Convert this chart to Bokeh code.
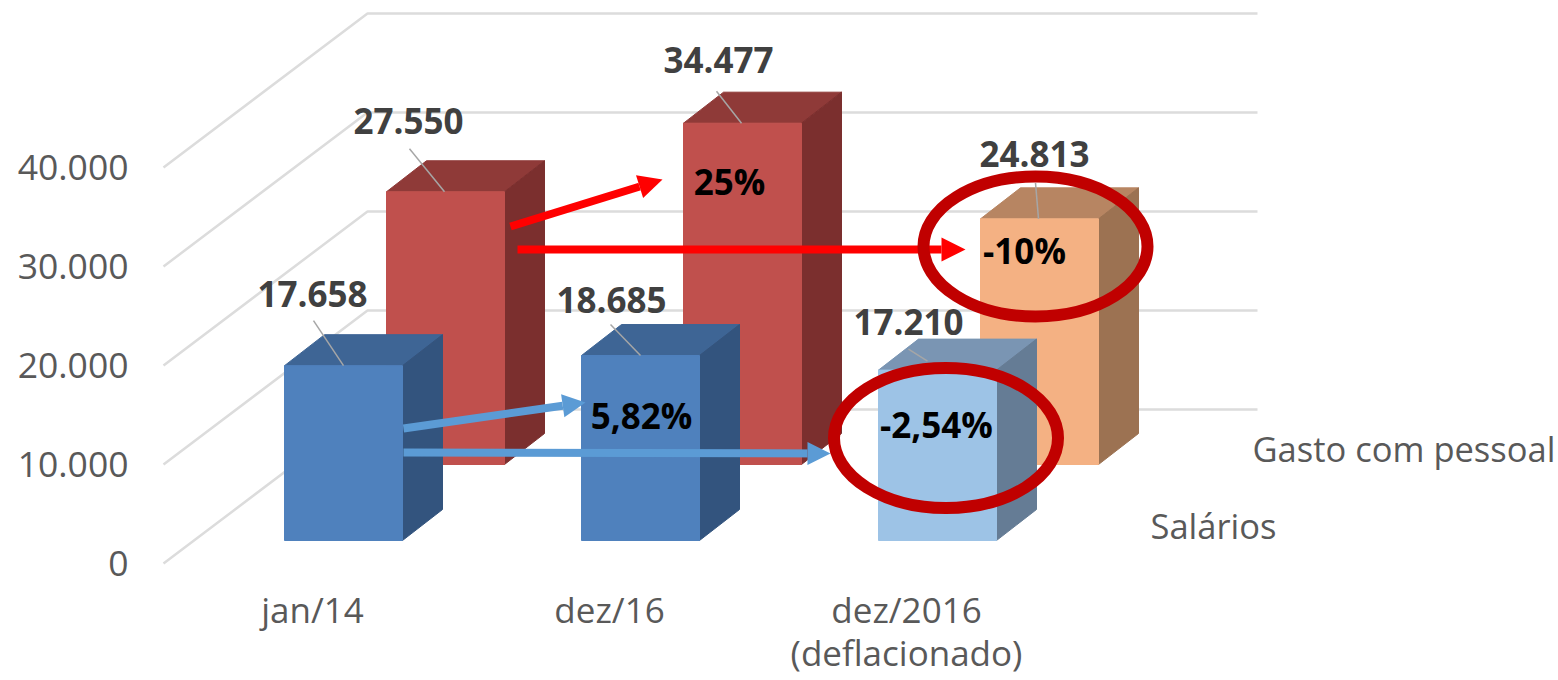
from bokeh.plotting import figure
from bokeh.models import FixedTicker, Arrow, NormalHead
from bokeh.core.properties import value
from bokeh.embed import file_html
from bokeh.resources import INLINE

# ---- data ----
categories = ["jan/14", "dez/16", "dez/2016\n(deflacionado)"]
salarios = [17658, 18685, 17210]
gasto = [27550, 34477, 24813]
salarios_labels = ["17.658", "18.685", "17.210"]
gasto_labels = ["27.550", "34.477", "24.813"]
y_ticks = [0, 10000, 20000, 30000, 40000]
y_tick_labels = ["0", "10.000", "20.000", "30.000", "40.000"]
series_names = ["Gasto com pessoal", "Salários"]
pct_texts = ["25%", "-10%", "5,82%", "-2,54%"]

# ---- styles per bar: (front, top, side) ----
blue = ("#4F81BD", "#3E6595", "#33547E")
red = ("#C0504D", "#8F3A38", "#7B2F2E")
light_blue = ("#9DC3E6", "#7A95B3", "#657C95")
orange = ("#F4B183", "#B78562", "#9C7252")
front_styles = [blue, blue, light_blue]
back_styles = [red, red, orange]

FONT = "Open Sans"
TEXT_GREY = "#595959"
LABEL_GREY = "#404040"

# ---- page geometry (window pixels) ----
W, H = 1558, 680
FRAME_L, FRAME_B = 140, 577
S = 0.0099           # pixels per unit of value
Y0_PX = 563          # pixel row of value 0 at the front of the floor
X0_PX, GROUP_PX = 312, 297  # pixel column of first category, group pitch
BAR_W, DEPTH_X, DEPTH_Y = 118, 40, 31


def X(px):
    return (px - X0_PX) / GROUP_PX


def V(py):
    return (Y0_PX - py) / S


p = figure(
    width=W, height=H, output_backend="svg", toolbar_location=None,
    x_range=(X(FRAME_L), X(W)), y_range=(V(FRAME_B), V(0)),
    min_border_left=FRAME_L, min_border_right=0, min_border_top=0,
    min_border_bottom=H - FRAME_B,
    outline_line_color=None, background_fill_color="white",
)
p.grid.visible = False

# axes
ya = p.yaxis[0]
ya.ticker = FixedTicker(ticks=y_ticks)
ya.major_label_overrides = dict(zip(y_ticks, y_tick_labels))
ya.axis_line_color = None
ya.major_tick_line_color = None
ya.minor_tick_line_color = None
ya.major_label_text_font = FONT
ya.major_label_text_font_size = "35.5px"
ya.major_label_text_color = TEXT_GREY
ya.major_label_standoff = 6

xa = p.xaxis[0]
xa.ticker = FixedTicker(ticks=list(range(len(categories))))
xa.major_label_overrides = dict(enumerate(categories))
xa.axis_line_color = None
xa.major_tick_line_color = None
xa.minor_tick_line_color = None
xa.major_label_text_font = FONT
xa.major_label_text_font_size = "35px"
xa.major_label_text_color = TEXT_GREY
xa.major_label_text_line_height = 0.92
xa.major_label_standoff = 2

# 3-D style walls: each gridline runs back along the side wall then across
WALL_L, WALL_DX, WALL_DY, WALL_R = 163, 204, 154, 1257
p.multi_line(
    xs=[[X(WALL_L), X(WALL_L + WALL_DX), X(WALL_R)] for _ in y_ticks],
    ys=[[v, v + WALL_DY / S, v + WALL_DY / S] for v in y_ticks],
    line_color="#DCDCDC", line_width=2.5,
)


def draw_bars(vals, row_left, base_px, styles):
    base = V(base_px)
    for i, (v, st) in enumerate(zip(vals, styles)):
        l = X(row_left + i * GROUP_PX)
        r = X(row_left + i * GROUP_PX + BAR_W)
        dx, dy = DEPTH_X / GROUP_PX, DEPTH_Y / S
        p.patch([l, l + dx, r + dx, r], [base + v, base + v + dy, base + v + dy, base + v],
                fill_color=st[1], line_color=st[1], line_width=1)
        p.patch([r, r + dx, r + dx, r], [base, base + dy, base + v + dy, base + v],
                fill_color=st[2], line_color=st[2], line_width=1)
        p.quad(left=l, right=r, bottom=base, top=base + v,
               fill_color=st[0], line_color=st[0], line_width=1)


BACK_LEFT, BACK_BASE = 386, 464
FRONT_LEFT, FRONT_BASE = 284, 540
draw_bars(gasto, BACK_LEFT, BACK_BASE, back_styles)
draw_bars(salarios, FRONT_LEFT, FRONT_BASE, front_styles)

# leader lines and value labels (pixel offsets from each bar's front top-left corner)
leader_back = [(23, 58, -43), (33, 58, -32), (55, 58, -36)]
leader_front = [(29, 59, -45), (29, 59, -31), (30, 49, -21)]
label_back_dx = [22, 35, 54]
label_back_dy = [-71, -63, -65]
label_front_dx = [28, 30, 30]
label_front_dy = [-72, -56, -48]


def labels(vals, texts, row_left, base_px, leaders, ldx, ldy):
    base = V(base_px)
    for i, v in enumerate(vals):
        l_px = row_left + i * GROUP_PX
        a, b, up = leaders[i]
        top = base + v
        p.line([X(l_px + a), X(l_px + b)], [top - up / S, top + (0 if b == 58 or b == 59 else 9 / S)],
               line_color="#A6A6A6", line_width=1.5)
        p.text(x=[X(l_px + ldx[i])], y=[top - ldy[i] / S], text=[texts[i]],
               text_font=value(FONT), text_font_size="35px", text_font_style="bold",
               text_color=LABEL_GREY, text_align="center", text_baseline="middle")


labels(gasto, gasto_labels, BACK_LEFT, BACK_BASE, leader_back, label_back_dx, label_back_dy)
labels(salarios, salarios_labels, FRONT_LEFT, FRONT_BASE, leader_front, label_front_dx, label_front_dy)

# percent annotations
pct_x_px = [729, 1024, 641, 936]
pct_y_px = [181, 250, 415, 424]
p.text(x=[X(a) for a in pct_x_px], y=[V(b) for b in pct_y_px], text=pct_texts,
       text_font=value(FONT), text_font_size="35px", text_font_style="bold",
       text_color="black", text_align="center", text_baseline="middle")

# depth axis series names
series_x_px = [1252, 1150]
series_y_px = [448, 525]
p.text(x=[X(a) for a in series_x_px], y=[V(b) for b in series_y_px], text=series_names,
       text_font=value(FONT), text_font_size="34.5px", text_color=TEXT_GREY,
       text_align="left", text_baseline="middle")


# arrows
def arrow(x0, y0, x1, y1, color, lw, size):
    p.add_layout(Arrow(
        x_start=X(x0), y_start=V(y0), x_end=X(x1), y_end=V(y1),
        line_color=color, line_width=lw,
        end=NormalHead(size=size, fill_color=color, line_color=color, line_width=0),
    ))


arrow(510, 226, 662, 179, "#FF0000", 8, 24)
arrow(517, 249, 965, 249, "#FF0000", 8, 24)
arrow(403, 428, 585, 402, "#5B9BD5", 8, 23)
arrow(403, 452, 830, 453, "#5B9BD5", 8, 23)

# highlight rings
ring_x_px = [1035, 945.5]
ring_y_px = [246, 437.5]
rings = p.ellipse(x=[X(a) for a in ring_x_px], y=[V(b) for b in ring_y_px],
                  width=224, height=140, width_units="screen", height_units="screen",
                  fill_alpha=0, line_color="#C00000", line_width=12)
rings.level = "overlay"

open("out.html", "w").write(file_html(p, INLINE))
